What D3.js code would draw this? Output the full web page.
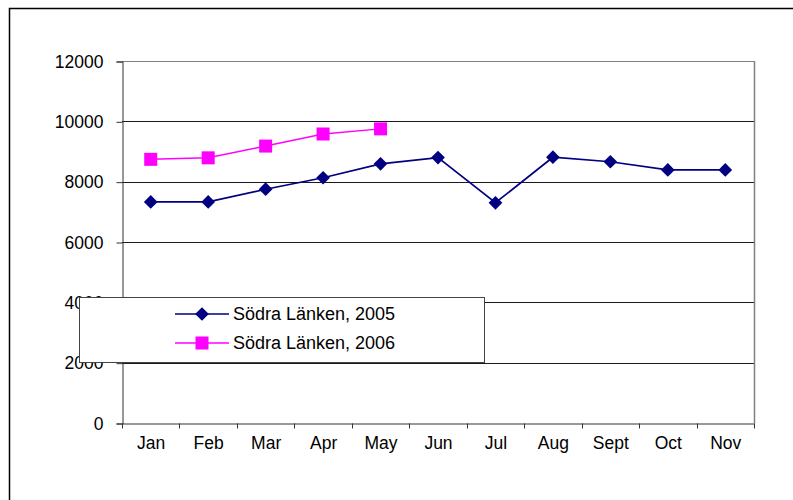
<!DOCTYPE html>
<html>
<head>
<meta charset="utf-8">
<script src="https://cdn.jsdelivr.net/npm/d3@7"></script>
<style>
  html, body { margin: 0; padding: 0; background: #fff; }
  svg { display: block; font-family: "Liberation Sans", Arial, sans-serif; }
</style>
</head>
<body>
<svg id="chart" width="793" height="500"></svg>
<script>
// Monthly traffic, Södra Länken
const months = ["Jan", "Feb", "Mar", "Apr", "May", "Jun", "Jul", "Aug", "Sept", "Oct", "Nov"];
const values2005 = [7330, 7330, 7750, 8130, 8590, 8800, 7300, 8810, 8660, 8390, 8390];
const values2006 = [8740, 8790, 9180, 9580, 9750];
const yTicks = [0, 2000, 4000, 6000, 8000, 10000, 12000];
const seriesNames = ["Södra Länken, 2005", "Södra Länken, 2006"];
const seriesColors = ["#000080", "#FF00FF"];

const svg = d3.select("#chart");

// outer chart frame
svg.append("rect")
  .attr("x", 9.5).attr("y", 8.5)
  .attr("width", 820).attr("height", 520)
  .attr("fill", "#fff").attr("stroke", "#000").attr("stroke-width", 1.5);

const plot = { left: 122, top: 61, right: 754, bottom: 423 };

const x = d3.scaleBand().domain(months).range([plot.left, plot.right]).padding(0);
const y = d3.scaleLinear().domain([0, 12000]).range([plot.bottom, plot.top]);

// horizontal gridlines
svg.append("g")
  .selectAll("line")
  .data(yTicks.filter(d => d > 0))
  .join("line")
  .attr("x1", plot.left).attr("x2", plot.right)
  .attr("y1", d => Math.round(y(d)) + 0.5).attr("y2", d => Math.round(y(d)) + 0.5)
  .attr("stroke", d => d === 12000 ? "#808080" : "#1a1a1a")
  .attr("stroke-width", 1);

// right edge of plot area
svg.append("line")
  .attr("x1", plot.right + 0.5).attr("x2", plot.right + 0.5)
  .attr("y1", plot.top).attr("y2", plot.bottom)
  .attr("stroke", "#808080").attr("stroke-width", 1.5);

// y axis
const yAxis = d3.axisLeft(y).tickValues(yTicks).tickSize(6).tickPadding(13).tickFormat(d3.format("d"));
const gy = svg.append("g").attr("transform", `translate(${plot.left + 0.5},0.5)`).call(yAxis);
gy.select(".domain").attr("stroke", "#333");
gy.selectAll(".tick line").attr("stroke", "#333");
gy.selectAll(".tick text").attr("fill", "#000").style("font-size", "17.5px");

// x axis with ticks between categories
const xAxis = d3.axisBottom(x).tickSize(0).tickPadding(13);
const gx = svg.append("g").attr("transform", `translate(0.5,${plot.bottom + 0.5})`).call(xAxis);
gx.select(".domain").attr("stroke", "#333");
gx.selectAll(".tick text").attr("fill", "#000").style("font-size", "17.5px");
gx.selectAll(".sep")
  .data(months.map(m => x(m)).concat([x(months[months.length - 1]) + x.bandwidth()]))
  .join("line")
  .attr("class", "sep")
  .attr("x1", d => Math.round(d)).attr("x2", d => Math.round(d))
  .attr("y1", 0).attr("y2", 5)
  .attr("stroke", "#333");

const cx = m => x(m) + x.bandwidth() / 2;
const line = d3.line().x(d => cx(d.m)).y(d => y(d.v));

const data2005 = values2005.map((v, i) => ({ m: months[i], v }));
const data2006 = values2006.map((v, i) => ({ m: months[i], v }));

// 2006 series
svg.append("path").datum(data2006)
  .attr("d", line).attr("fill", "none")
  .attr("stroke", seriesColors[1]).attr("stroke-width", 1.5);
svg.append("g").selectAll("rect").data(data2006).join("rect")
  .attr("x", d => cx(d.m) - 6.5).attr("y", d => y(d.v) - 6.5)
  .attr("width", 13).attr("height", 13)
  .attr("fill", seriesColors[1]);

// 2005 series
const diamond = d3.symbol().type(d3.symbolDiamond2).size(120);
svg.append("path").datum(data2005)
  .attr("d", line).attr("fill", "none")
  .attr("stroke", seriesColors[0]).attr("stroke-width", 1.7);
svg.append("g").selectAll("path").data(data2005).join("path")
  .attr("d", diamond)
  .attr("transform", d => `translate(${cx(d.m)},${y(d.v)})`)
  .attr("fill", seriesColors[0]);

// legend
const legend = svg.append("g");
legend.append("rect")
  .attr("x", 79.5).attr("y", 297.5).attr("width", 405).attr("height", 65)
  .attr("fill", "#fff").attr("stroke", "#444").attr("stroke-width", 1);

const rows = [314, 343];
seriesNames.forEach((name, i) => {
  const ly = rows[i];
  legend.append("line")
    .attr("x1", 175).attr("x2", 229).attr("y1", ly).attr("y2", ly)
    .attr("stroke", seriesColors[i]).attr("stroke-width", 1.5);
  if (i === 0) {
    legend.append("path").attr("d", diamond)
      .attr("transform", `translate(202,${ly})`).attr("fill", seriesColors[i]);
  } else {
    legend.append("rect").attr("x", 202 - 6.5).attr("y", ly - 6.5)
      .attr("width", 13).attr("height", 13).attr("fill", seriesColors[i]);
  }
  legend.append("text")
    .attr("x", 233).attr("y", ly).attr("dy", "0.36em")
    .style("font-size", "18px").attr("fill", "#000")
    .text(name);
});
</script>
</body>
</html>
